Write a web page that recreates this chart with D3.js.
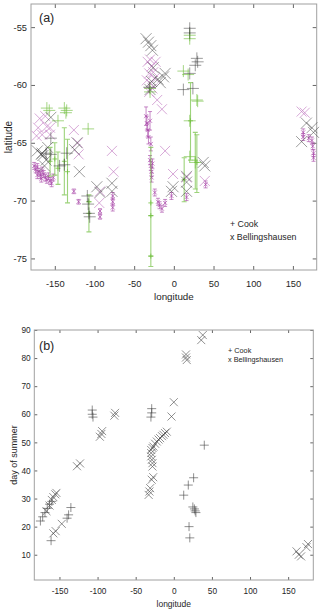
<!DOCTYPE html>
<html><head><meta charset="utf-8">
<script src="https://cdn.jsdelivr.net/npm/d3@7"></script>
<style>
body{margin:0;background:#fff}
svg{display:block}
text{font-family:"Liberation Sans",Arial,sans-serif;fill:#262626}
</style>
</head><body>
<svg id="c" width="320" height="615"></svg>
<script>
// ---------- Panel (a): positions ----------
const lonTicks = [-150,-100,-50,0,50,100,150];
const latTicks = [-75,-70,-65,-60,-55];
const dayTicks = [10,20,30,40,50,60,70,80,90];

// Cook, observed positions (black +)
const cookObsLon = [-161,-155,-155,-144,-138,-135,-109,-108,-107,-106,-31,20,20,29,27,30,20,12,24];
const cookObsLat = [-65.9,-64.6,-66.0,-67.0,-66.9,-65.9,-69.6,-70.3,-71.1,-71.4,-60.2,-55.1,-55.5,-57.7,-58.3,-58.0,-59.0,-60.4,-60.3];

// Bellingshausen, observed positions (black x)
const bellObsLon = [-155,-172,-167,-165,-159,-161,-163,-166,-122,-125,-119,-97,-93,-78,-78,-35,-32,-29,-27,-20,-13,-11,-17,-26,-28,-30,-3,-1,16,16,16,37,39,167,174,176,161];
const bellObsLat = [-62.8,-65.7,-66.0,-66.1,-65.4,-66.5,-67.0,-65.9,-65.0,-65.6,-67.5,-68.8,-69.3,-68.5,-69.2,-56.0,-56.3,-56.6,-57.0,-59.5,-59.3,-59.0,-59.8,-58.5,-59.7,-60.4,-69.2,-68.8,-67.9,-68.4,-69.2,-66.7,-67.0,-63.3,-63.7,-64.1,-64.9];

// Bellingshausen, estimated positions (magenta x, large)
const bellEstLon = [-169,-162,-171,-160,-173,-166,-156,-156,-126,-120,-121,-78,-76,-94,-93,-21,-15,-11,-1,16,39,-33,-30,-28,-31,-26,-34,-29,-27,-24,-31,-23,161,165];
const bellEstLat = [-62.9,-62.7,-63.7,-63.6,-64.4,-64.3,-64.3,-63.7,-63.9,-66.0,-65.0,-65.7,-67.5,-70.2,-69.2,-61.3,-62.1,-65.7,-67.7,-68.0,-68.3,-58.0,-57.8,-58.4,-59.0,-58.9,-59.6,-59.9,-60.3,-59.4,-60.6,-58.0,-62.3,-62.4];

// Bellingshausen, estimates with error bars (small magenta x)
const bellBarLon = [-176,-174,-172,-170,-168,-166,-164,-162,-160,-158,-156,-154,-172,-167,-152,-126,-120,-93,-93,-77,-77,-77,-35,-34,-33,-32,-30,-29,-30,-29,-28,-28,-27,-24,-20,-15,-11,-18,-3,16,40,163,163,170,174,175,176,176];
const bellBarLat = [-67.0,-67.3,-67.1,-67.5,-67.8,-67.4,-67.7,-68.0,-68.2,-67.9,-68.3,-68.5,-67.8,-68.1,-68.0,-69.2,-70.1,-70.9,-71.4,-69.6,-70.1,-70.6,-62.7,-63.3,-63.9,-64.5,-63.1,-65.1,-66.5,-67.0,-67.5,-68.0,-66.8,-69.3,-70.1,-70.7,-70.2,-70.4,-69.6,-69.7,-68.6,-64.1,-64.5,-64.6,-64.8,-65.3,-65.9,-66.3];
const bellBarErr = [0.3,0.3,0.3,0.3,0.3,0.3,0.3,0.3,0.3,0.3,0.3,0.3,0.3,0.3,0.3,0.2,0.2,0.2,0.2,0.3,0.3,0.3,0.8,0.6,0.6,0.6,0.8,0.6,0.4,0.4,0.4,0.4,0.4,0.3,0.3,0.3,0.3,0.3,0.3,0.3,0.3,0.3,0.3,0.3,0.3,0.3,0.3,0.3];

// Cook, estimated positions (green +, large)
const cookEstLon = [-160,-157,-138,-135,-136,-146,-108,-30,-30,20,20,12,18,29,30,20,20,27];
const cookEstLat = [-62.0,-62.2,-62.0,-62.2,-62.4,-63.1,-63.8,-60.3,-60.6,-55.7,-56.0,-58.8,-59.1,-61.3,-61.4,-63.1,-66.2,-66.7];

// Cook, estimates with error bars (green, small +)
const cookBarLon = [-156,-150,-146,-138,-134,-107,-107,-29,-29,-29,21,13,27,29];
const cookBarLat = [-66.6,-66.4,-67.2,-66.6,-67.5,-71.1,-70.1,-70.2,-71.3,-74.8,-63.1,-68.2,-66.5,-66.7];
const cookBarLo  = [-67.9,-67.8,-68.6,-69.5,-70.2,-72.7,-70.1,-75.7,-71.3,-74.8,-66.5,-70.1,-69.0,-69.3];
const cookBarHi  = [-65.4,-65.0,-65.8,-63.7,-64.7,-69.5,-70.1,-65.4,-71.3,-74.8,-59.8,-66.3,-64.1,-64.3];

// ---------- Panel (b): day of summer ----------
const cookDayLon = [-175,-172,-169,-166,-163,-160,-161,-140,-138,-135,-107,-107,-106,-29,-29,-30,40,13,19,26,25,27,28,29,20,21];
const cookDayVal = [22,23.5,25,26.5,28,29,15,23,24.2,26.8,61.5,60,59,62,60.5,59,49,31.2,34.8,37.4,27,26.3,25.6,25,20,16];

const bellDayLon = [-167,-163,-160,-158,-155.5,-154,-158,-155,-147,-127,-123,-97,-95,-94,-78,-77,
  -28,-28,-28.8,-29.7,-29.7,-29.7,-28,-26.7,-24.5,-22.3,-20,-17.9,-15.5,-13.6,-11.5,-9.2,
  -33,-32,-31,-29,-27,0,-3,38,36,16,16,17,161,164,167,174,176];
const bellDayVal = [25.5,27.5,29.5,30.5,31.5,32,17.6,18.4,21,41.5,42.5,52,53,54,59.5,60.5,
  41.4,42.6,43.8,45,46.2,47.3,48,48.5,49.5,50.3,51,51.5,52.2,52.7,53.3,53.8,
  31.3,32.5,33.7,36.7,37.6,64.3,59.2,88.2,86.4,81.3,80.2,79.3,11.2,10,9.4,12.7,13.8];

// ---------- drawing ----------
const svg = d3.select('#c');

function box(g, xs, ys, xt, yt, o) {
  const [x0,x1] = xs.range(), [y1,y0] = ys.range();
  const fmt = d => String(d);
  g.append('g').attr('transform',`translate(0,${y1})`)
    .call(d3.axisBottom(xs).tickValues(xt).tickSizeInner(-o.tick).tickSizeOuter(0).tickPadding(o.xpad).tickFormat(fmt))
    .call(a=>{a.select('.domain').remove();a.selectAll('text').attr('font-size',o.fs).attr('font-family','Liberation Sans, Arial, sans-serif').attr('fill','#333');a.selectAll('line').attr('stroke','#666');});
  g.append('g').attr('transform',`translate(0,${y0})`)
    .call(d3.axisTop(xs).tickValues(xt).tickSizeInner(-o.tick).tickSizeOuter(0).tickFormat(''))
    .call(a=>{a.select('.domain').remove();a.selectAll('line').attr('stroke','#666');});
  g.append('g').attr('transform',`translate(${x0},0)`)
    .call(d3.axisLeft(ys).tickValues(yt).tickSizeInner(-o.tick).tickSizeOuter(0).tickPadding(o.ypad).tickFormat(fmt))
    .call(a=>{a.select('.domain').remove();a.selectAll('text').attr('font-size',o.fs).attr('font-family','Liberation Sans, Arial, sans-serif').attr('fill','#333');a.selectAll('line').attr('stroke','#666');});
  g.append('g').attr('transform',`translate(${x1},0)`)
    .call(d3.axisRight(ys).tickValues(yt).tickSizeInner(-o.tick).tickSizeOuter(0).tickFormat(''))
    .call(a=>{a.select('.domain').remove();a.selectAll('line').attr('stroke','#666');});
  g.append('rect').attr('x',x0).attr('y',y0).attr('width',x1-x0).attr('height',y1-y0)
    .attr('fill','none').attr('stroke','#a0a0a0').attr('stroke-width',1);
}

function plusM(g, xs, ys, lon, lat, h, col, op, sw) {
  lon.forEach((d,i)=>{const x=xs(d), y=ys(lat[i]);
    g.append('path').attr('d',`M${x-h},${y}H${x+h}M${x},${y-h}V${y+h}`)
      .attr('stroke',col).attr('stroke-opacity',op).attr('stroke-width',sw).attr('fill','none');});
}
function crossM(g, xs, ys, lon, lat, h, col, op, sw) {
  lon.forEach((d,i)=>{const x=xs(d), y=ys(lat[i]);
    g.append('path').attr('d',`M${x-h},${y-h}L${x+h},${y+h}M${x-h},${y+h}L${x+h},${y-h}`)
      .attr('stroke',col).attr('stroke-opacity',op).attr('stroke-width',sw).attr('fill','none');});
}
function bars(g, xs, ys, lon, lo, hi, cap, col, op, sw) {
  lon.forEach((d,i)=>{const x=xs(d), ya=ys(lo[i]), yb=ys(hi[i]);
    g.append('path').attr('d',`M${x},${ya}V${yb}M${x-cap},${ya}H${x+cap}M${x-cap},${yb}H${x+cap}`)
      .attr('stroke',col).attr('stroke-opacity',op).attr('stroke-width',sw).attr('fill','none');});
}

// Panel (a)
const xA = d3.scaleLinear([-180,180],[31,316.7]);
const yA = d3.scaleLinear([-76,-53],[270,4]);
const gA = svg.append('g');
box(gA, xA, yA, lonTicks, latTicks, {tick:4, xpad:10, ypad:4, fs:9.3});

const MAG='#a846a8', MAGL='#c27ac2', GRN='#74c043', BLK='#333';
bars(gA, xA, yA, bellBarLon, bellBarLat.map((v,i)=>v-bellBarErr[i]), bellBarLat.map((v,i)=>v+bellBarErr[i]), 2, MAG, 0.7, 0.9);
crossM(gA, xA, yA, bellBarLon, bellBarLat, 2, MAG, 0.75, 0.9);
crossM(gA, xA, yA, bellEstLon, bellEstLat, 5, MAGL, 0.65, 1);
bars(gA, xA, yA, cookBarLon, cookBarLo, cookBarHi, 2.5, GRN, 0.7, 1.1);
plusM(gA, xA, yA, cookBarLon, cookBarLat, 2.5, GRN, 0.8, 1);
plusM(gA, xA, yA, cookEstLon, cookEstLat, 6, GRN, 0.65, 1);
crossM(gA, xA, yA, bellObsLon, bellObsLat, 5.5, BLK, 0.55, 0.9);
plusM(gA, xA, yA, cookObsLon, cookObsLat, 6, BLK, 0.55, 0.9);

gA.append('text').attr('x',39).attr('y',21.7).attr('font-size',12.5).text('(a)');
gA.append('text').attr('x',173.9).attr('y',300).attr('text-anchor','middle').attr('font-size',9.8).text('longitude');
gA.append('text').attr('transform','translate(11.5,137) rotate(-90)').attr('text-anchor','middle').attr('font-size',10).text('latitude');
gA.append('text').attr('x',230).attr('y',227.3).attr('font-size',8.8).text('+ Cook');
gA.append('text').attr('x',230).attr('y',240).attr('font-size',8.8).text('x Bellingshausen');

// Panel (b)
const xB = d3.scaleLinear([-183,183],[34.3,313.3]);
const yB = d3.scaleLinear([1,90],[580,330]);
const gB = svg.append('g');
box(gB, xB, yB, lonTicks, dayTicks, {tick:3, xpad:8, ypad:3.6, fs:8.3});
crossM(gB, xB, yB, bellDayLon, bellDayVal, 4, '#444', 0.75, 0.8);
plusM(gB, xB, yB, cookDayLon, cookDayVal, 4.5, '#444', 0.75, 0.8);

gB.append('text').attr('x',39).attr('y',349.5).attr('font-size',12.5).text('(b)');
gB.append('text').attr('x',173.8).attr('y',607).attr('text-anchor','middle').attr('font-size',8.5).text('longitude');
gB.append('text').attr('transform','translate(16.5,455) rotate(-90)').attr('text-anchor','middle').attr('font-size',9).text('day of summer');
gB.append('text').attr('x',228).attr('y',353.3).attr('font-size',7.3).text('+ Cook');
gB.append('text').attr('x',228).attr('y',361.7).attr('font-size',7.3).text('x Bellingshausen');
</script>
</body></html>
